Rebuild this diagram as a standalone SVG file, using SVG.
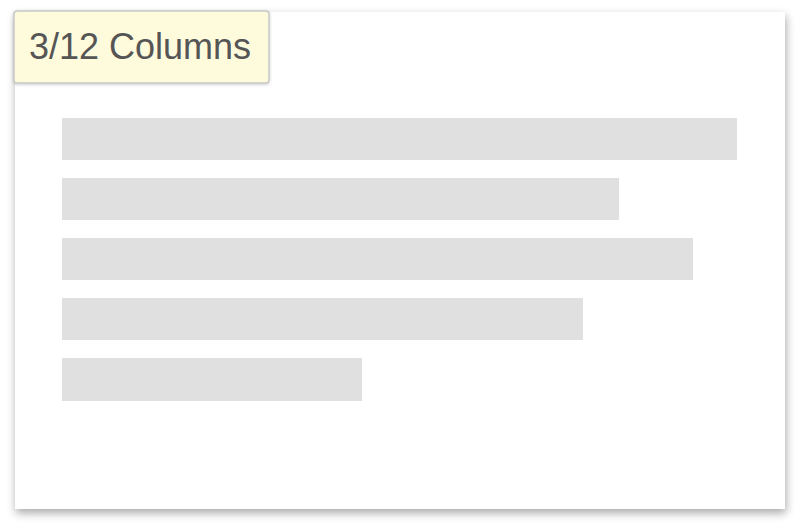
<svg xmlns="http://www.w3.org/2000/svg" width="800" height="526" viewBox="0 0 800 526">
<defs>
<filter id="sh" x="-10%" y="-10%" width="120%" height="125%">
<feGaussianBlur in="SourceAlpha" stdDeviation="5"/>
<feOffset dx="1" dy="4" result="b"/>
<feComponentTransfer><feFuncA type="linear" slope="0.35"/></feComponentTransfer>
<feMerge><feMergeNode/><feMergeNode in="SourceGraphic"/></feMerge>
</filter>
<filter id="sh2" x="-10%" y="-20%" width="120%" height="150%">
<feGaussianBlur in="SourceAlpha" stdDeviation="1.5"/>
<feOffset dx="0" dy="1"/>
<feComponentTransfer><feFuncA type="linear" slope="0.2"/></feComponentTransfer>
<feMerge><feMergeNode/><feMergeNode in="SourceGraphic"/></feMerge>
</filter>
</defs>
<style>
.bar{fill:#e0e0e0}
.lbl{font-family:"Liberation Sans",Arial,sans-serif;font-size:36px;fill:#555555}
</style>
<rect width="800" height="526" fill="#ffffff"/>
<g id="card">
<rect x="15" y="12" width="770" height="497" fill="#ffffff" filter="url(#sh)"/>
</g>
<g id="bars">
<rect class="bar" x="62" y="118" width="675" height="42"/>
<rect class="bar" x="62" y="178" width="557" height="42"/>
<rect class="bar" x="62" y="238" width="631" height="42"/>
<rect class="bar" x="62" y="298" width="521" height="42"/>
<rect class="bar" x="62" y="358" width="300" height="43"/>
</g>
<g id="label">
<rect x="14" y="11" width="255" height="72" rx="3" fill="#fefadc" stroke="#c8c8c8" stroke-width="1.5" filter="url(#sh2)"/>
<text class="lbl" x="29" y="59">3/12 Columns</text>
</g>
</svg>
